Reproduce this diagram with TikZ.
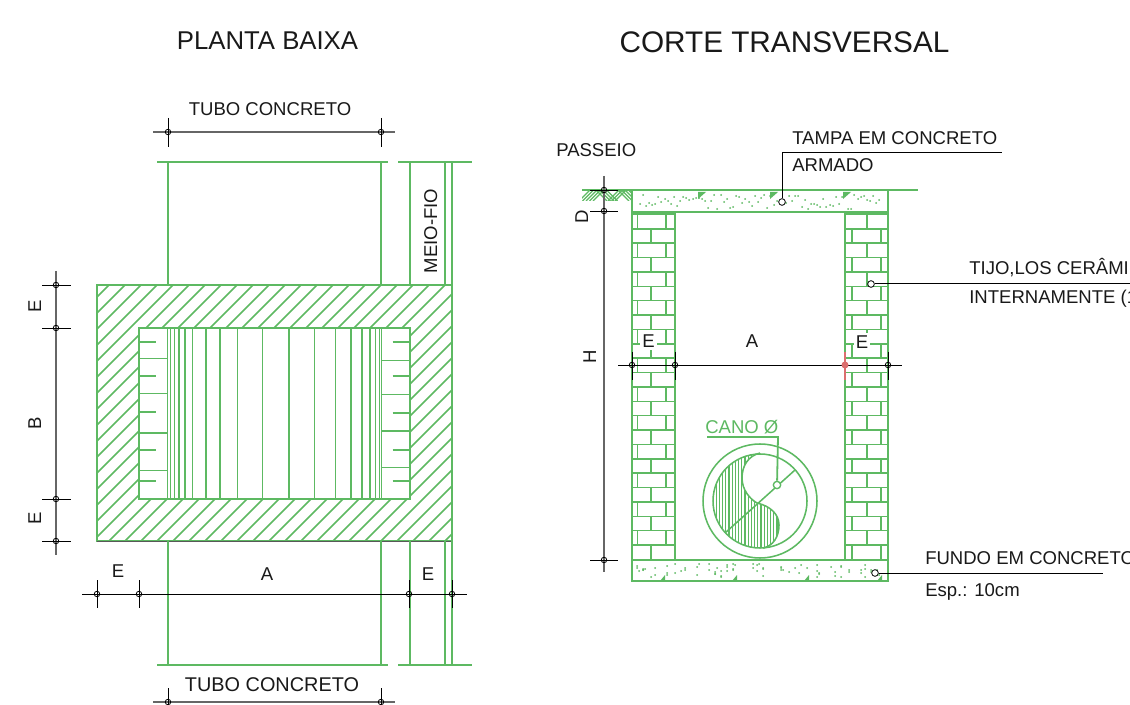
\documentclass[tikz,border=0pt]{standalone}
\usepackage{fontspec}
\setmainfont{Liberation Sans}
\definecolor{cadgreen}{HTML}{5DB962}
\definecolor{cadred}{HTML}{DB6F6F}
\tikzset{
  gl/.style={draw=cadgreen,line width=1.35pt},
  glthin/.style={draw=cadgreen,line width=1.15pt},
  dimline/.style={draw=black,line width=0.6pt},
  dimgray/.style={draw=black!60,line width=1pt},
  lead/.style={draw=black,line width=0.75pt},
  tick/.style={draw=black,line width=0.7pt},
  dot/.style={circle,draw=black,line width=0.6pt,fill=none,minimum size=5.5pt*0.75,inner sep=0pt},
  txt/.style={inner sep=0pt,font=\fontsize{13.9}{16}\selectfont,text=black!90},
}
\begin{document}
\begin{tikzpicture}[x=0.75pt,y=-0.75pt]
\useasboundingbox (0,0) rectangle (1130,705);
\fill[white] (0,0) rectangle (1130,705);

% ---------- titles
\node[txt,font=\fontsize{19.3}{22}\selectfont,anchor=base] (t1) at (267.5,50) {PLANTA BAIXA};
\node[txt,font=\fontsize{22.3}{26}\selectfont,anchor=base] (t2) at (784.5,53) {CORTE TRANSVERSAL};

% ---------- plan: hatched ring
\begin{scope}
  \clip (97,285) rectangle (452,541);
  \foreach \c in {378,394,...,1000}
    \draw[glthin] (\c-285+0,285) -- (\c-541,541);
\end{scope}
\fill[white] (139,328) rectangle (410,499);
\draw[gl] (97,285) rectangle (452,541);
\draw[draw=black!65,line width=0.6pt] (97,541.5) -- (452,541.5);
\draw[gl] (139,328) rectangle (410,499);

% plan: vertical fall lines
\foreach \x in {167.3,170.7,174.3,179,185,192.7,206,220,237.7,262.7,289,314.7,335.3,351,362,370,375.7,379.3,381.3}
  \draw[glthin] (\x,328) -- (\x,499);
\foreach \y in {358.3,393.3,433,470.3} \draw[glthin] (139,\y) -- (167,\y);
\foreach \y in {342.3,375.7,412.3,449.7,481} \draw[gl] (139,\y) -- (156,\y);
\foreach \y in {360.7,394.3,431,467.7} \draw[glthin] (381,\y) -- (410,\y);
\foreach \y in {342.3,375.7,412.7,450,481} \draw[gl] (392.5,\y) -- (410,\y);

% plan: pipe and kerb
\draw[glthin] (157,162) -- (388,162);
\draw[glthin] (398,162) -- (472,162);
\draw[glthin] (157,665) -- (388,665);
\draw[glthin] (398,665) -- (472,665);
\foreach \x in {168,381,410,445,452} {
  \draw[glthin] (\x,162) -- (\x,285);
  \draw[glthin] (\x,541) -- (\x,665);
}

% plan: top dimension
\coordinate (dta) at (168,132); \coordinate (dtb) at (381,132);
\draw[dimgray] (153,132) -- (395,132);
\draw[tick] (168,118) -- (168,147);
\draw[tick] (381,118) -- (381,147);
\node[dot] (dtao) at (dta) {}; \node[dot] (dtbo) at (dtb) {};
\node[txt,anchor=base] (tubotop) at (270,116) {TUBO CONCRETO};

% plan: bottom dimension
\coordinate (dba) at (168,702); \coordinate (dbb) at (381,702);
\draw[dimgray] (153,702) -- (395,702);
\draw[tick] (168,688) -- (168,705);
\draw[tick] (381,688) -- (381,705);
\node[dot] (dbao) at (dba) {}; \node[dot] (dbbo) at (dbb) {};
\node[txt,font=\fontsize{14.9}{17}\selectfont,anchor=base] (tubobot) at (272,691) {TUBO CONCRETO};

\node[txt,rotate=90,anchor=base] (meio) at (437,231) {MEIO-FIO};

% plan: left dimension
\draw[dimgray] (56,271) -- (56,555);
\foreach \y in {285,328,499,541} {
  \draw[tick] (42,\y) -- (71,\y);
  \node[dot] at (56,\y) {};
}
\node[txt,rotate=90,anchor=base] (le1) at (41,306) {E};
\node[txt,rotate=90,anchor=base] (lb) at (41,423) {B};
\node[txt,rotate=90,anchor=base] (le2) at (41,518) {E};

% plan: horizontal dimension
\draw[dimline] (82,594) -- (467,594);
\foreach \x in {97,139,409,452} {
  \draw[tick] (\x,580) -- (\x,608);
  \node[dot] at (\x,594) {};
}
\node[txt,anchor=base] (pe1) at (118,577) {E};
\node[txt,anchor=base] (pa) at (267,580) {A};
\node[txt,anchor=base] (pe2) at (428,580.5) {E};

% ---------- section: ground
\draw[glthin] (582,190) -- (918,190);
\begin{scope}
  \clip (582,190) rectangle (632,201);
  \foreach \x in {579,582.5,586,589.5,593} \draw[draw=cadgreen,line width=1pt] (\x,201) -- (\x+11,190);
  \foreach \x in {596,599.5,603,606.5} \draw[draw=cadgreen,line width=1pt] (\x,190) -- (\x+11,201);
  \foreach \x in {608,611.5,615} \draw[draw=cadgreen,line width=1pt] (\x,201) -- (\x+11,190);
  \foreach \x in {618,621.5,625,628.5} \draw[draw=cadgreen,line width=1pt] (\x,190) -- (\x+11,201);
\end{scope}

% section: slabs
\draw[gl] (632,190) rectangle (888,212);
\draw[gl] (632,560) rectangle (888,581);
\foreach \i in {1,...,78} {
  \pgfmathsetmacro{\dx}{637+mod(\i*137,246)}
  \pgfmathsetmacro{\dy}{195+mod(mod(\i*\i,97)*7+\i*3,15)}
  \fill[cadgreen] (\dx,\dy) circle (1);
  \pgfmathsetmacro{\ex}{637+mod(\i*\i+\i*89,246)}
  \pgfmathsetmacro{\ey}{564+mod(mod(\i*\i,89)*5+\i*2,14)}
  \fill[cadgreen] (\ex,\ey) circle (1);
}
\foreach \x in {698,770,843} \fill[cadgreen] (\x,192) -- (\x+8,192) -- (\x,199) -- cycle;
\foreach \x in {662,734,806,879} \fill[cadgreen] (\x+3,581) -- (\x+3,575) -- (\x-2,581) -- cycle;

% section: brick walls
\draw[gl] (632,214) rectangle (675,559.5);
\draw[gl] (845,214) rectangle (888,559.5);
\foreach \k in {0,...,23} {
  \pgfmathsetmacro{\ya}{214.5+14.37*\k}
  \pgfmathsetmacro{\yb}{214.5+14.37*(\k+1)}
  \draw[glthin] (632,\yb) -- (675,\yb);
  \draw[glthin] (845,\yb) -- (888,\yb);
  \ifodd\k
    \draw[glthin] (651,\ya) -- (651,\yb);
    \draw[glthin] (852,\ya) -- (852,\yb);
    \draw[glthin] (881,\ya) -- (881,\yb);
  \else
    \draw[glthin] (637.5,\ya) -- (637.5,\yb);
    \draw[glthin] (666,\ya) -- (666,\yb);
    \draw[glthin] (867,\ya) -- (867,\yb);
  \fi
}
\node[txt,fill=white,inner sep=0pt,minimum width=12.5pt,minimum height=13.5pt] (se1) at (648.5,341) {E};
\node[txt,fill=white,inner sep=0pt,minimum width=12.5pt,minimum height=13.5pt] (se2) at (862,342) {E};
\node[txt] (sa) at (752,341) {A};

% section: dimensions
\draw[dimgray] (604,176) -- (604,572);
\foreach \y in {190,211,560} {
  \draw[tick] (590,\y) -- (618,\y);
  \node[dot] at (604,\y) {};
}
\node[txt,rotate=90,anchor=base] (sd) at (588,217) {D};
\node[txt,rotate=90,anchor=base] (sh) at (596,357) {H};

\draw[dimline] (618,365) -- (902,365);
\draw[tick] (632,352) -- (632,380);
\draw[tick] (675,352) -- (675,380);
\draw[tick] (888,352) -- (888,380);
\node[dot] at (632,365) {};
\node[dot] at (675,365) {};
\node[dot] at (888,365) {};
\draw[draw=cadred,line width=1pt] (845,352) -- (845,380);
\fill[cadred] (845,365) circle (3.5);

% section: pipe
\coordinate (cc) at (760,501);
\draw[glthin] (cc) circle (57);
\draw[glthin] (cc) circle (47);
\begin{scope}
  \clip (cc) circle (47);
  \clip (760,453) .. controls (748,456) and (742,466) .. (742,478)
        .. controls (742,490) and (750,499) .. (757,503)
        .. controls (770,506) and (779,514) .. (779,525)
        .. controls (779,537) and (773,546) .. (763,548)
        -- (700,548) -- (700,453) -- cycle;
  \foreach \x in {713,716.2,...,782} \draw[draw=cadgreen,line width=0.85pt] (\x,450) -- (\x,550);
\end{scope}
\draw[glthin] (760,453) .. controls (748,456) and (742,466) .. (742,478)
        .. controls (742,490) and (750,499) .. (757,503)
        .. controls (770,506) and (779,514) .. (779,525)
        .. controls (779,537) and (773,546) .. (763,548);
\coordinate (da) at (725,533); \coordinate (db) at (795,470);
\draw[glthin] (da) -- (db);
\node[circle,draw=cadgreen,line width=1pt,fill=white,minimum size=5.5pt,inner sep=0pt] (canoc) at (777,485) {};
\coordinate (canoa) at (707,437); \coordinate (canob) at (778,437);
\draw[gl] (canoa) -- (canob) -- (canoc);
\node[txt,text=cadgreen,anchor=base west] (cano) at (705,433) {CANO Ø};

% section: leaders
\node[dot,minimum size=5pt,fill=white] (tampac) at (782,202) {};
\coordinate (tampab) at (782,152.5); \coordinate (tampae) at (1002,152.5);
\draw[lead] (tampac) -- (tampab) -- (tampae);
\node[txt,anchor=base west] (tampa1) at (792,145) {TAMPA EM CONCRETO};
\node[txt,anchor=base west] (tampa2) at (792,172) {ARMADO};

\node[dot,minimum size=5pt,fill=white] (tijoc) at (871,284) {};
\coordinate (tijoe) at (1130,284);
\draw[lead] (tijoc) -- (tijoe);
\node[txt,anchor=base west] (tijo1) at (969,275) {TIJO,LOS CERÂMI};
\node[txt,anchor=base west] (tijo2) at (969,304) {INTERNAMENTE (1};

\node[dot,minimum size=5pt,fill=white] (fundoc) at (875,573) {};
\coordinate (fundoe) at (1103,573);
\draw[lead] (fundoc) -- (fundoe);
\node[txt,anchor=base west] (fundo1) at (925,564) {FUNDO EM CONCRETO};
\node[txt,anchor=base west] (fundo2) at (925,596) {Esp.: 10cm};

\node[txt,anchor=base west] (passeio) at (556,157) {PASSEIO};
\end{tikzpicture}
\end{document}
